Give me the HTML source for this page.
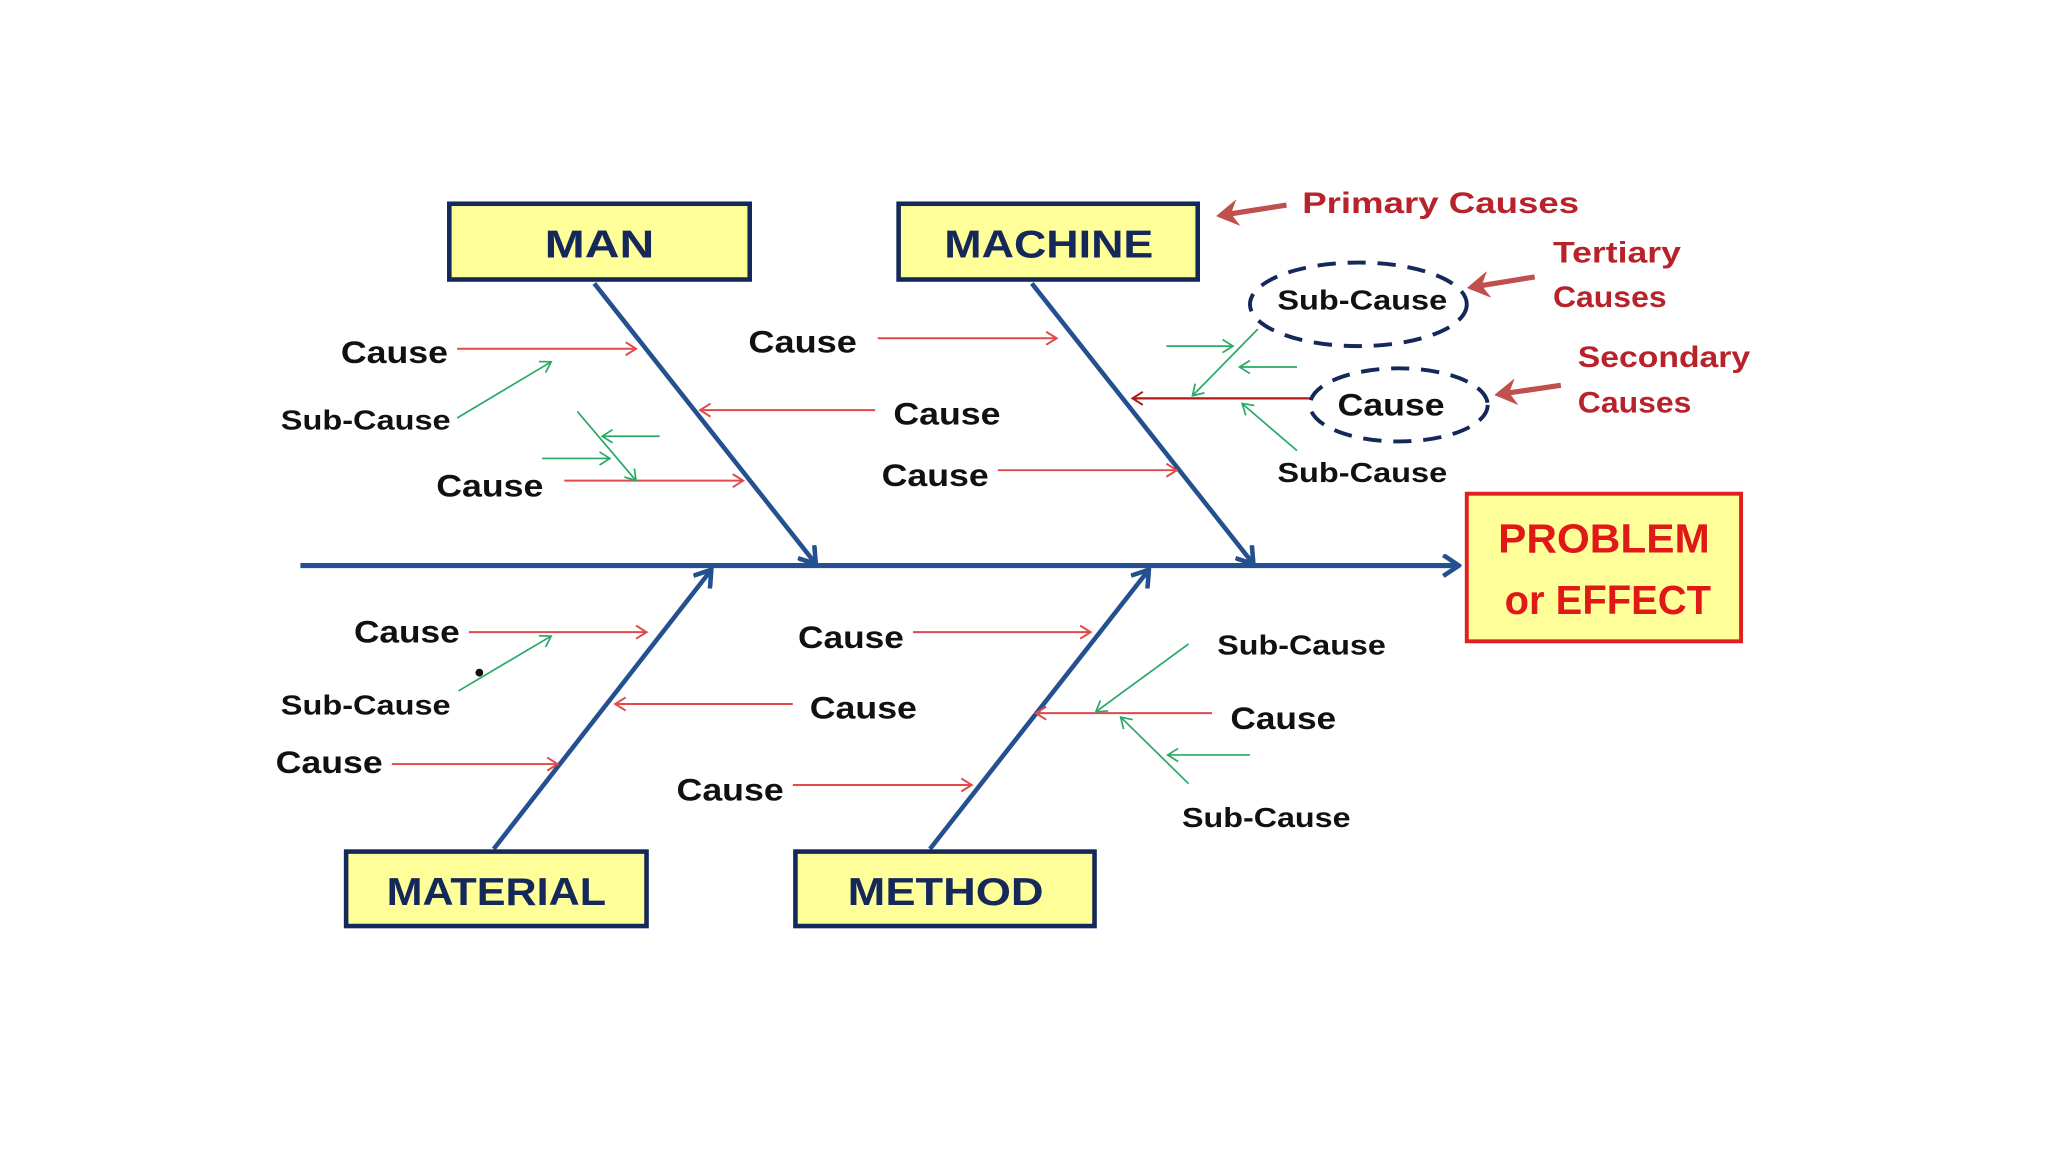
<!DOCTYPE html>
<html><head><meta charset="utf-8"><style>
html,body{margin:0;padding:0;background:#fff;}
svg{display:block;}
text{font-family:"Liberation Sans",sans-serif;font-weight:bold;}
</style></head><body>
<svg width="2048" height="1152" viewBox="0 0 1568 882" xmlns="http://www.w3.org/2000/svg">
<defs>
<marker id="ab" markerWidth="16" markerHeight="18" refX="13" refY="9" orient="auto" markerUnits="userSpaceOnUse"><path d="M2,1 L14,9 L2,17" fill="none" stroke="#24508f" stroke-width="3.5"/></marker>
<marker id="ar" markerWidth="12" markerHeight="12" refX="10" refY="6" orient="auto" markerUnits="userSpaceOnUse"><path d="M2,1 L10,6 L2,11" fill="none" stroke="#e04a4a" stroke-width="1.5"/></marker>
<marker id="ad" markerWidth="12" markerHeight="12" refX="10" refY="6" orient="auto" markerUnits="userSpaceOnUse"><path d="M2,1 L10,6 L2,11" fill="none" stroke="#b01818" stroke-width="1.5"/></marker>
<marker id="ag" markerWidth="12" markerHeight="12" refX="10" refY="6" orient="auto" markerUnits="userSpaceOnUse"><path d="M2,1 L10,6 L2,11" fill="none" stroke="#2aa866" stroke-width="1.3"/></marker>
<marker id="aa" markerWidth="18" markerHeight="20" refX="14" refY="10" orient="auto" markerUnits="userSpaceOnUse"><path d="M1,1 L16,10 L1,19 L6,10 Z" fill="#c0504d" stroke="#c0504d" stroke-width="1"/></marker>
</defs>

<line x1="230" y1="433" x2="1116" y2="433" stroke="#24508f" stroke-width="4" marker-end="url(#ab)"/>
<line x1="455" y1="217" x2="624" y2="431" stroke="#24508f" stroke-width="3.5" marker-end="url(#ab)"/>
<line x1="790" y1="217" x2="959" y2="431" stroke="#24508f" stroke-width="3.5" marker-end="url(#ab)"/>
<line x1="378" y1="650" x2="544" y2="437" stroke="#24508f" stroke-width="3.5" marker-end="url(#ab)"/>
<line x1="712" y1="650" x2="879" y2="437" stroke="#24508f" stroke-width="3.5" marker-end="url(#ab)"/>

<g stroke="#15285a" stroke-width="3.5" fill="#ffff99">
<rect x="344" y="156" width="230" height="58"/>
<rect x="688" y="156" width="229" height="58"/>
<rect x="265" y="652" width="230" height="57"/>
<rect x="609" y="652" width="229" height="57"/>
</g>
<rect x="1123" y="378" width="210" height="113" fill="#ffff99" stroke="#e02020" stroke-width="3"/>
<g fill="#15285a" font-size="30" text-anchor="middle">
<text x="459" y="197" textLength="84" lengthAdjust="spacingAndGlyphs">MAN</text>
<text x="803" y="197" textLength="160" lengthAdjust="spacingAndGlyphs">MACHINE</text>
<text x="380" y="693" textLength="168" lengthAdjust="spacingAndGlyphs">MATERIAL</text>
<text x="724" y="693" textLength="150" lengthAdjust="spacingAndGlyphs">METHOD</text>
</g>
<g fill="#e01818" font-size="31" text-anchor="middle">
<text x="1228" y="423" textLength="162" lengthAdjust="spacingAndGlyphs">PROBLEM</text>
<text x="1231" y="470" textLength="158" lengthAdjust="spacingAndGlyphs">or EFFECT</text>
</g>

<g stroke="#e04a4a" stroke-width="1.5" marker-end="url(#ar)">
<line x1="350" y1="267" x2="487" y2="267"/>
<line x1="670" y1="314" x2="536" y2="314"/>
<line x1="432" y1="368" x2="569" y2="368"/>
<line x1="672" y1="259" x2="809" y2="259"/>
<line x1="764" y1="360" x2="901" y2="360"/>
<line x1="359" y1="484" x2="495" y2="484"/>
<line x1="607" y1="539" x2="471" y2="539"/>
<line x1="300" y1="585" x2="427" y2="585"/>
<line x1="699" y1="484" x2="835" y2="484"/>
<line x1="607" y1="601" x2="744" y2="601"/>
<line x1="928" y1="546" x2="793" y2="546"/>
</g>
<line x1="1003" y1="305" x2="867" y2="305" stroke="#b01818" stroke-width="1.8" marker-end="url(#ad)"/>

<g stroke="#2aa866" stroke-width="1.3" marker-end="url(#ag)">
<line x1="350" y1="320" x2="422" y2="277"/>
<line x1="442" y1="315" x2="487" y2="368"/>
<line x1="505" y1="334" x2="461" y2="334"/>
<line x1="415" y1="351" x2="467" y2="351"/>
<line x1="963" y1="252" x2="913" y2="303"/>
<line x1="893" y1="265" x2="944" y2="265"/>
<line x1="993" y1="281" x2="949" y2="281"/>
<line x1="993" y1="345" x2="951" y2="309"/>
<line x1="351" y1="529" x2="422" y2="487"/>
<line x1="910" y1="493" x2="839" y2="545"/>
<line x1="910" y1="600" x2="858" y2="549"/>
<line x1="957" y1="578" x2="894" y2="578"/>
</g>
<circle cx="367" cy="515" r="3" fill="#111"/>

<g fill="none" stroke="#15285a" stroke-width="3" stroke-dasharray="14,9">
<ellipse cx="1040" cy="233" rx="83" ry="32"/>
<ellipse cx="1071" cy="310" rx="68" ry="28"/>
</g>

<g fill="#111" font-size="24">
<text x="261" y="278" textLength="82" lengthAdjust="spacingAndGlyphs">Cause</text>
<text x="684" y="325" textLength="82" lengthAdjust="spacingAndGlyphs">Cause</text>
<text x="334" y="380" textLength="82" lengthAdjust="spacingAndGlyphs">Cause</text>
<text x="573" y="270" textLength="83" lengthAdjust="spacingAndGlyphs">Cause</text>
<text x="675" y="372" textLength="82" lengthAdjust="spacingAndGlyphs">Cause</text>
<text x="1024" y="318" textLength="82" lengthAdjust="spacingAndGlyphs">Cause</text>
<text x="271" y="492" textLength="81" lengthAdjust="spacingAndGlyphs">Cause</text>
<text x="620" y="550" textLength="82" lengthAdjust="spacingAndGlyphs">Cause</text>
<text x="211" y="592" textLength="82" lengthAdjust="spacingAndGlyphs">Cause</text>
<text x="611" y="496" textLength="81" lengthAdjust="spacingAndGlyphs">Cause</text>
<text x="518" y="613" textLength="82" lengthAdjust="spacingAndGlyphs">Cause</text>
<text x="942" y="558" textLength="81" lengthAdjust="spacingAndGlyphs">Cause</text>
</g>
<g fill="#111" font-size="21">
<text x="215" y="329" textLength="130" lengthAdjust="spacingAndGlyphs">Sub-Cause</text>
<text x="978" y="237" textLength="130" lengthAdjust="spacingAndGlyphs">Sub-Cause</text>
<text x="978" y="369" textLength="130" lengthAdjust="spacingAndGlyphs">Sub-Cause</text>
<text x="215" y="547" textLength="130" lengthAdjust="spacingAndGlyphs">Sub-Cause</text>
<text x="932" y="501" textLength="129" lengthAdjust="spacingAndGlyphs">Sub-Cause</text>
<text x="905" y="633" textLength="129" lengthAdjust="spacingAndGlyphs">Sub-Cause</text>
</g>

<g stroke="#c0504d" stroke-width="4" marker-end="url(#aa)">
<line x1="985" y1="157" x2="934" y2="165"/>
<line x1="1175" y1="212" x2="1126" y2="220"/>
<line x1="1195" y1="295" x2="1147" y2="302"/>
</g>
<g fill="#b8222a" font-size="23">
<text x="997" y="163" textLength="212" lengthAdjust="spacingAndGlyphs">Primary Causes</text>
<text x="1189" y="201" textLength="98" lengthAdjust="spacingAndGlyphs">Tertiary</text>
<text x="1189" y="235" textLength="87" lengthAdjust="spacingAndGlyphs">Causes</text>
<text x="1208" y="281" textLength="132" lengthAdjust="spacingAndGlyphs">Secondary</text>
<text x="1208" y="316" textLength="87" lengthAdjust="spacingAndGlyphs">Causes</text>
</g>
</svg>
</body></html>
